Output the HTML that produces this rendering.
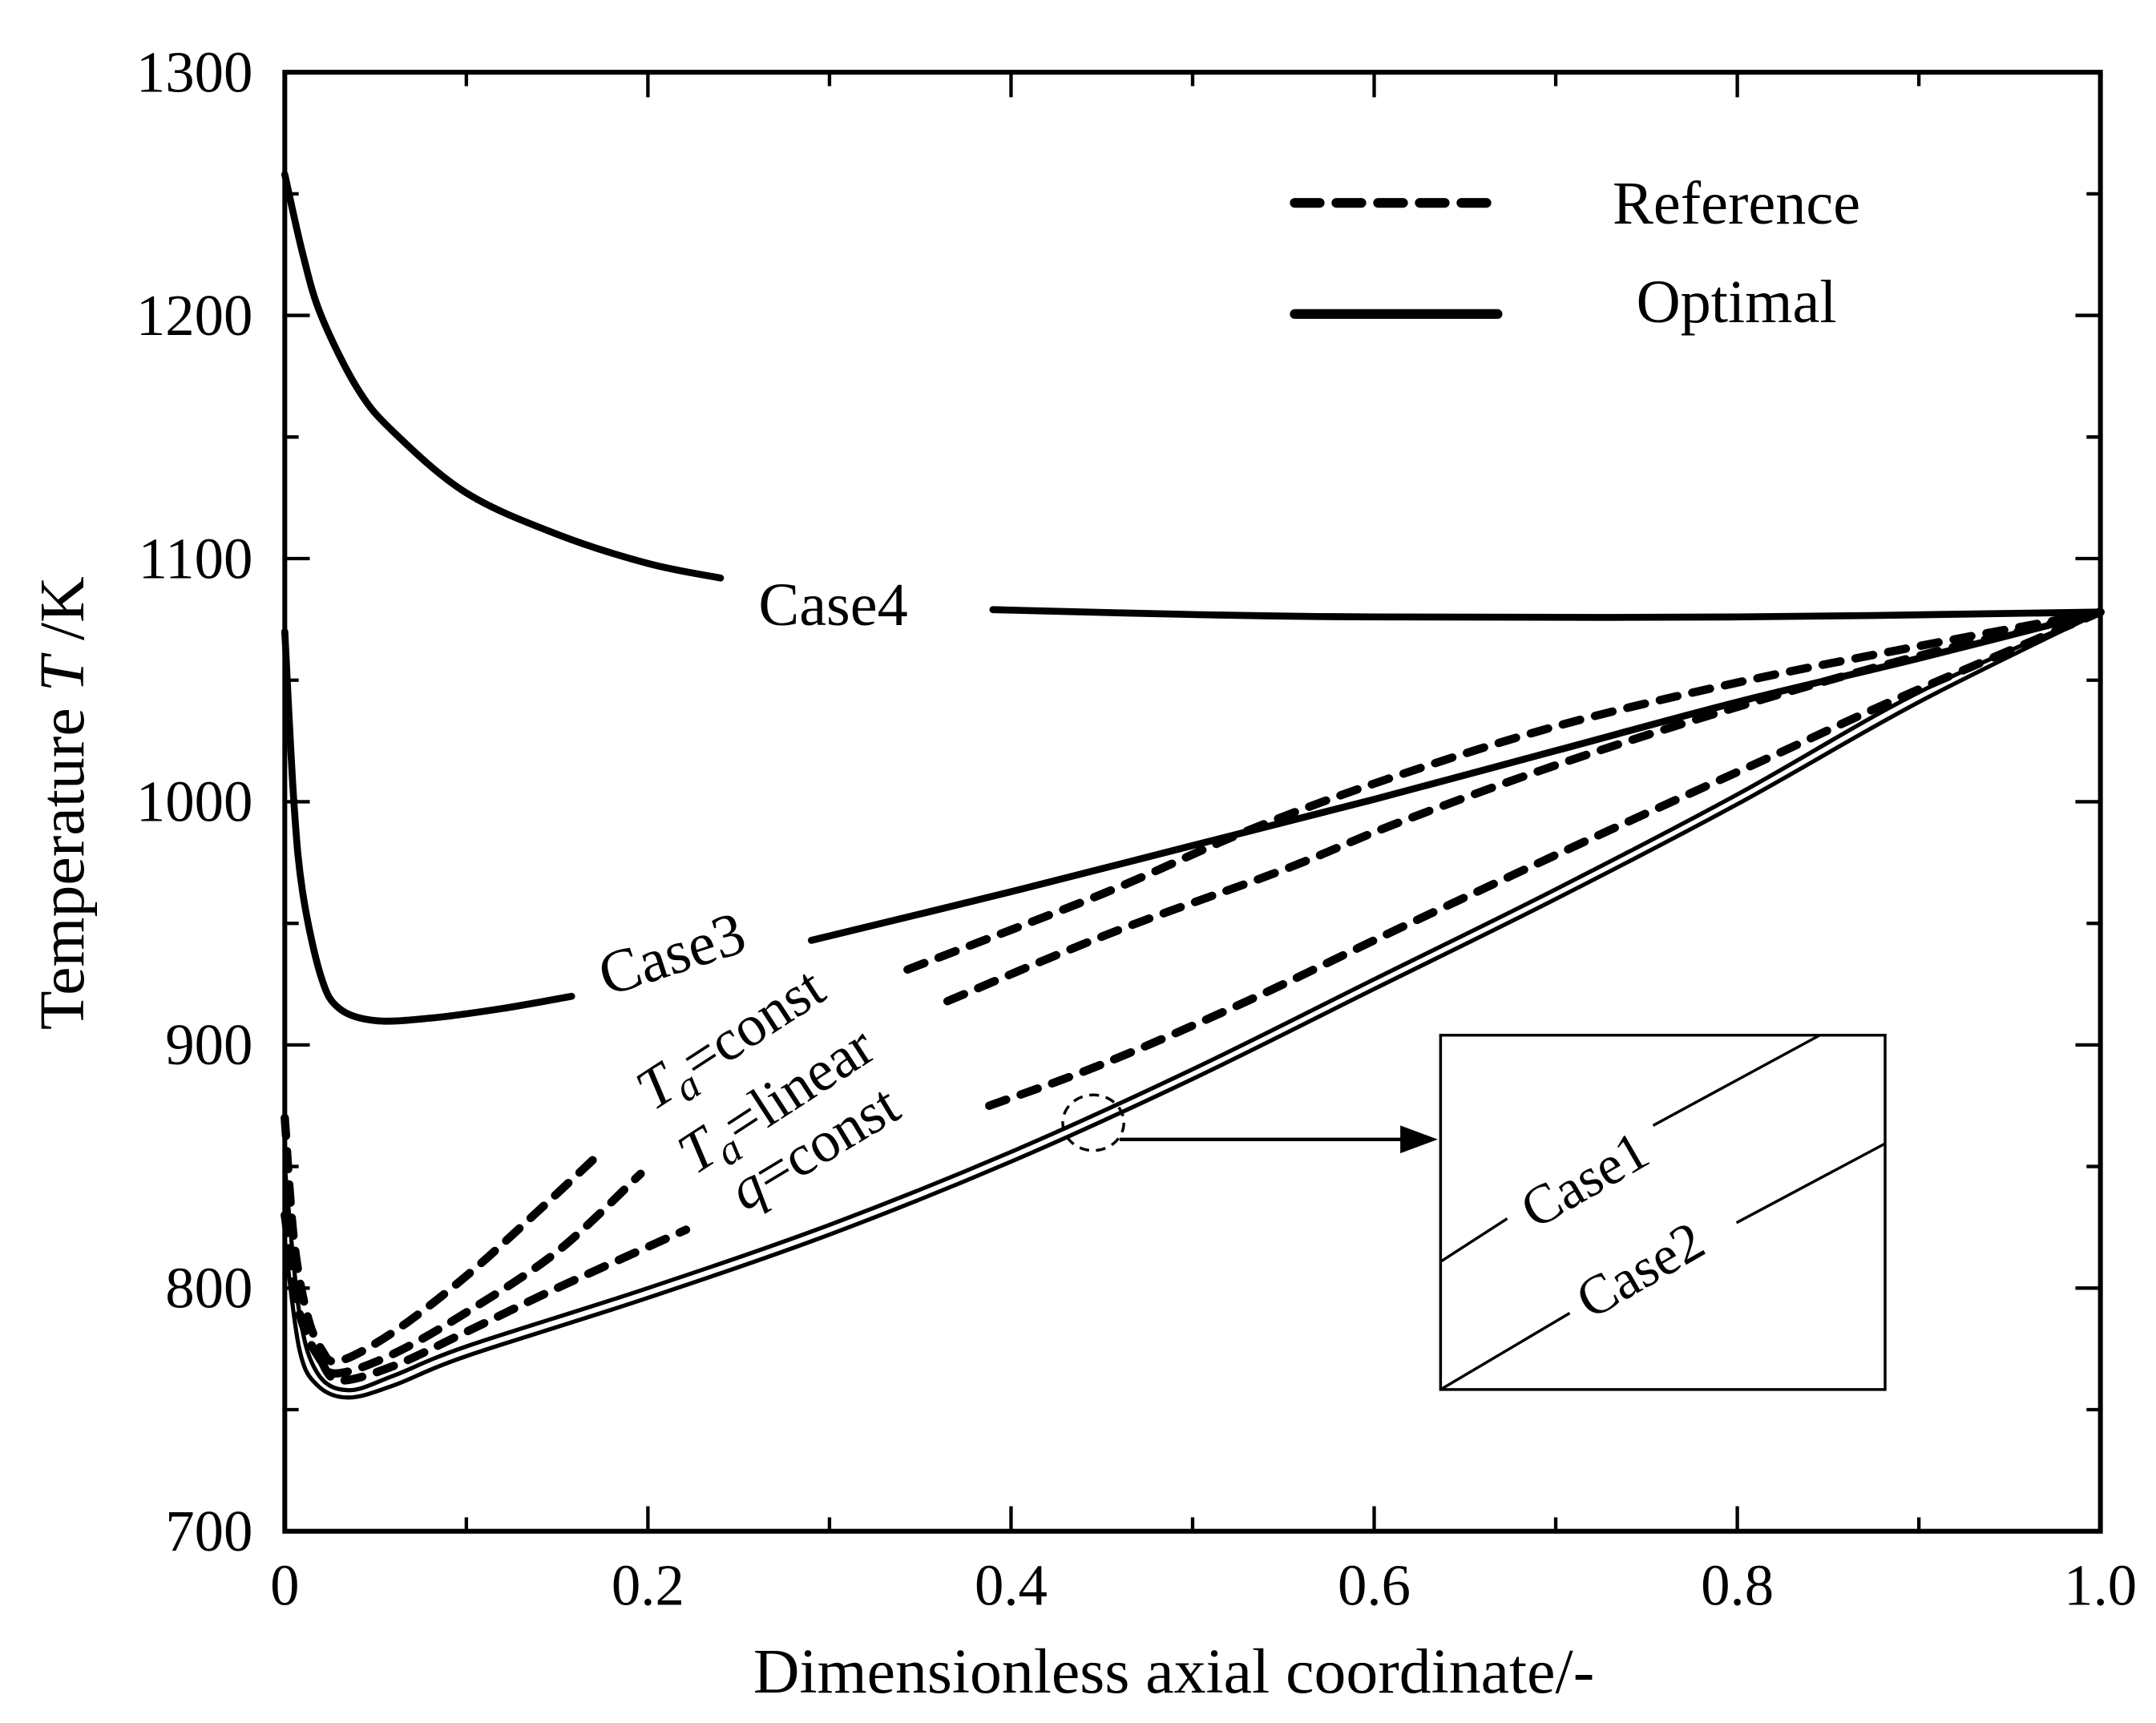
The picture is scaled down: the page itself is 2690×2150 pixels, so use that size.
<!DOCTYPE html>
<html><head><meta charset="utf-8"><style>
html,body{margin:0;padding:0;background:#fff}
svg{display:block}
text{font-family:"Liberation Serif",serif;fill:#000}
</style></head><body>
<svg id="chart" width="2690" height="2150" viewBox="0 0 1552 1240" preserveAspectRatio="none" xmlns="http://www.w3.org/2000/svg">
<g id="plot"></g>
</svg>
<script>
const xTicks=[0,0.2,0.4,0.6,0.8,1.0];
const xTickLabels=["0","0.2","0.4","0.6","0.8","1.0"];
const yTicks=[700,800,900,1000,1100,1200,1300];
const yTickLabels=["700","800","900","1000","1100","1200","1300"];
const case4X=[0,0.01,0.02,0.04,0.06,0.1,0.15,0.2,0.24];
const case4T=[1258,1225,1200,1170,1152,1127,1110,1098,1092];
const case4bX=[0.39,0.5,0.6,0.8,1.0];
const case4bT=[1079,1077,1076,1076,1078];
const case3X=[0,0.005,0.01,0.02,0.03,0.05,0.08,0.12,0.158];
const case3T=[1070,1000,962,928,915,910,911,915,920];
const case3bX=[0.29,0.4,0.5,0.6,0.7,0.8,0.9,1.0];
const case3bT=[943,963,982,1001,1021,1041,1059,1078];
const taConstX=[0,0.005,0.012,0.02,0.03,0.06,0.1,0.14,0.173];
const taConstT=[870,820,790,775,770,782,805,832,855];
const taConstbX=[0.343,0.45,0.53,0.606,0.7,0.8,0.9,1.0];
const taConstbT=[931,962,988,1009,1031,1049,1064,1078];
const taLinX=[0,0.008,0.02,0.03,0.06,0.1,0.15,0.196];
const taLinT=[830,790,770,765,773,790,815,847];
const taLinbX=[0.365,0.455,0.55,0.612,0.7,0.8,0.9,1.0];
const taLinbT=[918,946,972,991,1015,1039,1060,1078];
const qConstX=[0.02,0.03,0.06,0.1,0.15,0.221];
const qConstT=[770,762,768,782,800,824];
const qConstbX=[0.388,0.45,0.53,0.614,0.72,0.82,0.89,1.0];
const qConstbT=[875,892,918,948,985,1019,1043,1078];
const case1X=[0,0.008,0.018,0.035,0.06,0.1,0.2,0.3,0.4,0.5,0.6,0.7,0.8,0.9,1.0];
const case1T=[850,790,765,758,764,776,800,826,856,890,927,964,1003,1045,1078];
const case2X=[0,0.008,0.018,0.035,0.06,0.1,0.2,0.3,0.4,0.5,0.6,0.7,0.8,0.9,1.0];
const case2T=[820,775,760,755,760,772,796,822,852,886,923,960,999,1041,1078];

const NS="http://www.w3.org/2000/svg";
const X0=205,X1=1512,Y0=1102,Y1=52;
const sx=v=>X0+(v-0)/(1-0)*(X1-X0);
const sy=v=>Y0-(v-700)/(1300-700)*(Y0-Y1);
const g=document.getElementById('plot');
function mk(tag,attrs,parent){const e=document.createElementNS(NS,tag);for(const k in attrs)e.setAttribute(k,attrs[k]);(parent||g).appendChild(e);return e;}
function pathD(xs,ts){const p=xs.map((x,i)=>[sx(x),sy(ts[i])]);let d="M"+p[0][0]+","+p[0][1];
for(let i=0;i<p.length-1;i++){const a=p[i-1]||p[i],b=p[i],c=p[i+1],e=p[i+2]||c;
d+=" C"+(b[0]+(c[0]-a[0])/6)+","+(b[1]+(c[1]-a[1])/6)+" "+(c[0]-(e[0]-b[0])/6)+","+(c[1]-(e[1]-b[1])/6)+" "+c[0]+","+c[1];}return d;}
function series(xs,ts,name,w,dash){const e=mk('path',{d:pathD(xs,ts),fill:'none',stroke:'#000','stroke-width':w,'stroke-linecap':'round'});
if(dash)e.setAttribute('stroke-dasharray',dash);

}
const fr=mk('rect',{x:X0,y:Y1,width:X1-X0,height:Y0-Y1,fill:'none',stroke:'#000','stroke-width':3.5});


for(let i=0;i<=10;i++){const v=i/10,x=sx(v),L=(i%2==0)?18:10;
mk('line',{x1:x,y1:Y0,x2:x,y2:Y0-L,stroke:'#000','stroke-width':2.5});
mk('line',{x1:x,y1:Y1,x2:x,y2:Y1+L,stroke:'#000','stroke-width':2.5});}
xTicks.forEach((v,i)=>{const t=mk('text',{x:sx(v),y:1155,'font-size':42,'text-anchor':'middle'});t.textContent=xTickLabels[i];

});
for(let v=700;v<=1300;v+=50){const y=sy(v),L=(v%100==0)?18:10;
mk('line',{x1:X0,y1:y,x2:X0+L,y2:y,stroke:'#000','stroke-width':2.5});
mk('line',{x1:X1,y1:y,x2:X1-L,y2:y,stroke:'#000','stroke-width':2.5});}
yTicks.forEach((v,i)=>{const t=mk('text',{x:182,y:sy(v)+14,'font-size':42,'text-anchor':'end'});t.textContent=yTickLabels[i];

});
series(case4X,case4T,'case4-optimal-line',5);
series(case4bX,case4bT,'case4-optimal-line-right',5);
series(case3X,case3T,'case3-optimal-line',5);
series(case3bX,case3bT,'case3-optimal-line-right',5);
series(taConstX,taConstT,'ta-const-reference-line',6,'13 11');
series(taConstbX,taConstbT,'ta-const-reference-line-right',6,'13 11');
series(taLinX,taLinT,'ta-linear-reference-line',6,'13 11');
series(taLinbX,taLinbT,'ta-linear-reference-line-right',6,'13 11');
series(qConstX,qConstT,'q-const-reference-line',6,'13 11');
series(qConstbX,qConstbT,'q-const-reference-line-right',6,'13 11');
series(case1X,case1T,'case1-optimal-line',3);
series(case2X,case2T,'case2-optimal-line',3);
</script>
<script>
(function(){
const g=document.getElementById('plot');
g.insertAdjacentHTML('beforeend',`
<text x="546" y="450" font-size="44">Case4</text>
<text x="437" y="717" font-size="44" transform="rotate(-18 437 717)">Case3</text>
<text x="470" y="800" font-size="42" transform="rotate(-33 470 800)"><tspan font-style="italic">T</tspan><tspan font-style="italic" font-size="30" dy="8">a</tspan><tspan dy="-8">=const</tspan></text>
<text x="500" y="846" font-size="42" transform="rotate(-33 500 846)"><tspan font-style="italic">T</tspan><tspan font-style="italic" font-size="30" dy="8">a</tspan><tspan dy="-8">=linear</tspan></text>
<text x="536" y="872" font-size="42" transform="rotate(-31 536 872)"><tspan font-style="italic">q</tspan>=const</text>
<ellipse cx="787" cy="808" rx="22" ry="20" fill="none" stroke="#000" stroke-width="2" stroke-dasharray="7 5"/>
<line x1="806" y1="820" x2="1015" y2="820" stroke="#000" stroke-width="2.5"/>
<polygon points="1035,820 1008,810 1008,830" fill="#000"/>
<g>
<rect x="1037" y="745" width="320" height="255" fill="#fff" stroke="#000" stroke-width="2"/>
<line x1="1037" y1="908" x2="1085" y2="877" stroke="#000" stroke-width="2"/>
<line x1="1190" y1="810" x2="1310" y2="745" stroke="#000" stroke-width="2"/>
<line x1="1037" y1="1000" x2="1130" y2="945" stroke="#000" stroke-width="2"/>
<line x1="1250" y1="880" x2="1357" y2="823" stroke="#000" stroke-width="2"/>
<text x="1105" y="885" font-size="40" transform="rotate(-30 1105 885)">Case1</text>
<text x="1145" y="950" font-size="40" transform="rotate(-30 1145 950)">Case2</text>
</g>
<g>
<line x1="932" y1="146" x2="1082" y2="146" stroke="#000" stroke-width="7" stroke-dasharray="18 12" stroke-linecap="round"/>
<text x="1250" y="161" font-size="44" text-anchor="middle">Reference</text>
<line x1="932" y1="226" x2="1078" y2="226" stroke="#000" stroke-width="7" stroke-linecap="round"/>
<text x="1250" y="232" font-size="44" text-anchor="middle">Optimal</text>
</g>
<text x="845" y="1218" font-size="46" text-anchor="middle">Dimensionless axial coordinate/-</text>
<text x="60" y="578" font-size="46" text-anchor="middle" transform="rotate(-90 60 578)">Temperature <tspan font-style="italic">T</tspan> /K</text>
`);
})();
</script>
</body></html>
